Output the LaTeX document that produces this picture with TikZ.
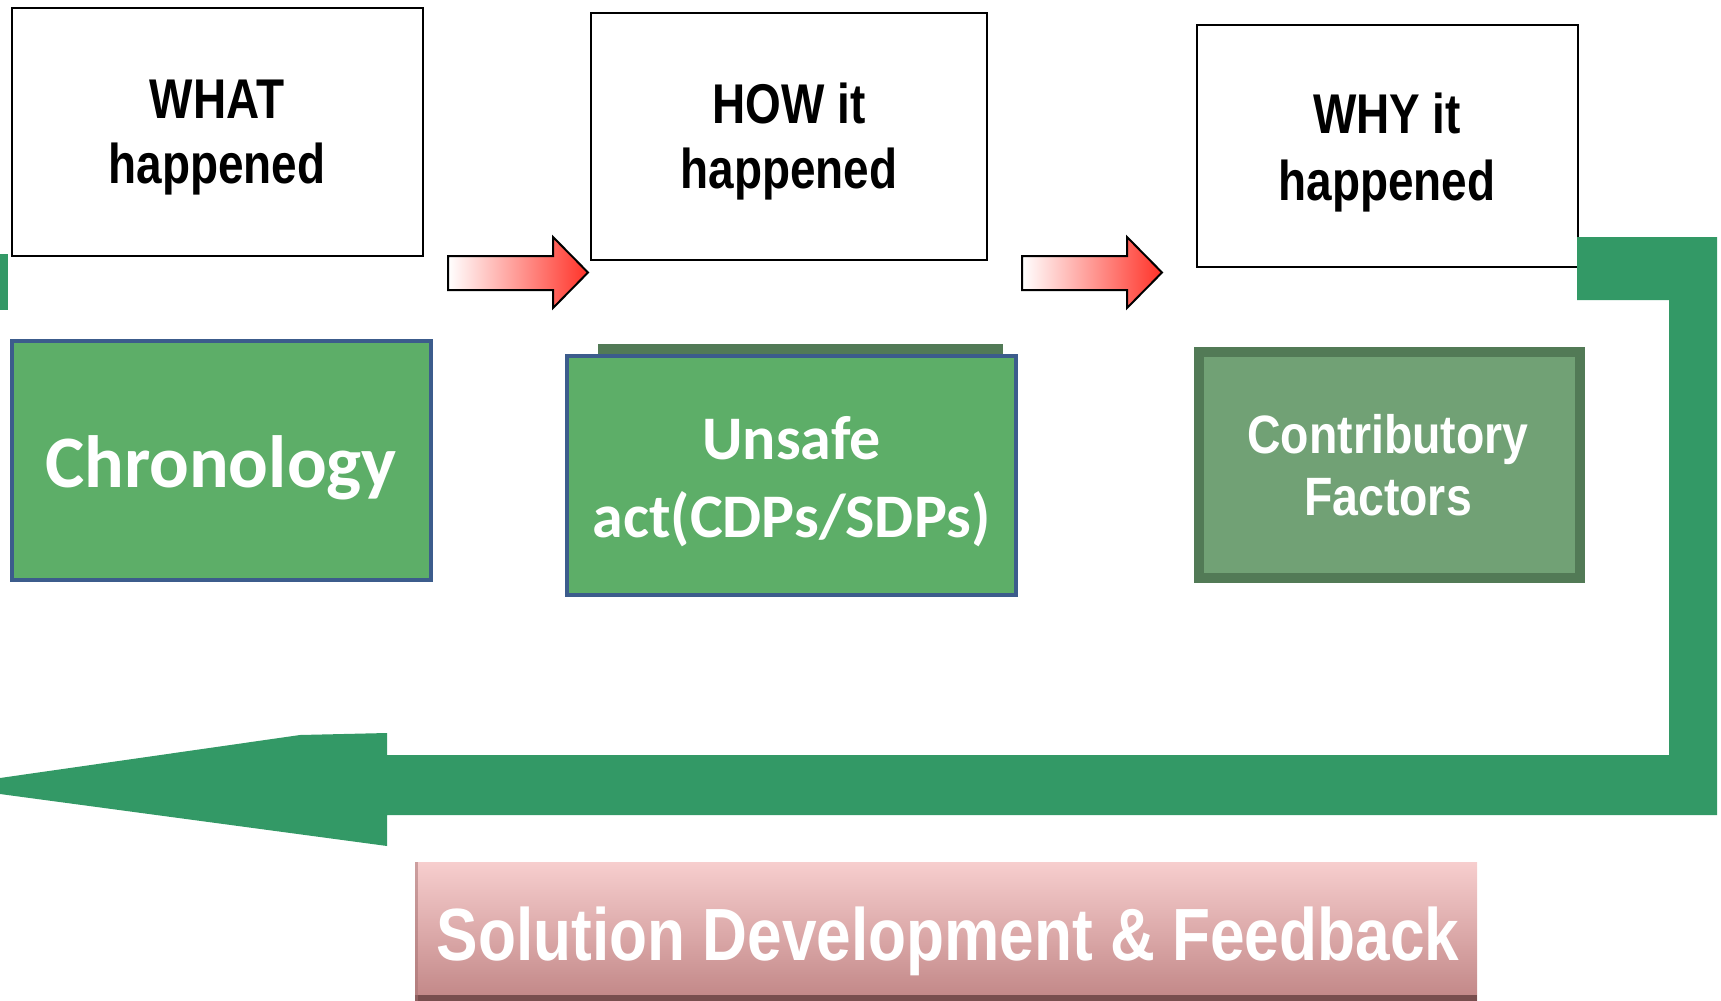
\documentclass[tikz,border=0pt]{standalone}
\usepackage{fontspec}
\setmainfont{Liberation Sans}
\newfontfamily\hdrfont[FakeStretch=0.82]{Liberation Sans}
\newfontfamily\cffont[FakeStretch=0.86]{Liberation Sans}
\newfontfamily\solfont[FakeStretch=0.84]{Liberation Sans}
\newfontfamily\calfont{Carlito}
\newcommand\mystack[1]{\begin{tabular}[t]{@{}c@{}}#1\end{tabular}}
\definecolor{loopgreen}{RGB}{51,153,102}
\definecolor{chgreen}{RGB}{93,174,104}
\definecolor{chblue}{RGB}{60,92,140}
\definecolor{dkgreen}{RGB}{82,122,86}
\definecolor{cfgreen}{RGB}{113,161,117}
\definecolor{arrred}{RGB}{255,50,40}
\definecolor{pinkA}{RGB}{247,206,206}
\definecolor{pinkB}{RGB}{233,176,176}
\definecolor{pinkC}{RGB}{193,134,134}
\definecolor{pinkD}{RGB}{120,78,78}
\begin{document}
\begin{tikzpicture}[x=1pt,y=-1pt,
  hbox/.style={draw=black, line width=2.5pt, fill=white, inner sep=0pt, rectangle},
  htext/.style={font=\hdrfont\bfseries\fontsize{56}{65}\selectfont, inner sep=0pt, anchor=base},
  greenbox/.style={draw=chblue, line width=4pt, fill=chgreen, inner sep=0pt, rectangle},
  caltext/.style={text=white, inner sep=0pt, anchor=base},
  cfbox/.style={draw=dkgreen, line width=10pt, fill=cfgreen, inner sep=0pt, rectangle},
  cftext/.style={text=white, font=\cffont\bfseries\fontsize{54}{62}\selectfont, inner sep=0pt, anchor=base},
  solbox/.style={top color=pinkA, middle color=pinkB, bottom color=pinkC, inner sep=0pt, rectangle, minimum width=1062pt, minimum height=139pt},
  soltext/.style={text=white, font=\solfont\bfseries\fontsize{74}{80}\selectfont, inner sep=0pt, anchor=base},
  redarrow/.style={left color=white, right color=arrred, draw=black, line width=2pt, line join=miter}
]
\useasboundingbox (0,0) rectangle (1721,1001);

% top boxes
\node[hbox, minimum width=411pt, minimum height=248pt] (what) at (217.5,132) {};
\node[hbox, minimum width=396pt, minimum height=247pt] (how) at (789,136.5) {};
\node[hbox, minimum width=381pt, minimum height=242pt] (why) at (1387.5,146) {};
\node[htext] (whatT) at (217,118) {\mystack{WHAT\\happened}};
\node[htext] (howT) at (789,123) {\mystack{HOW it\\happened}};
\node[htext, font=\hdrfont\bfseries\fontsize{56}{67}\selectfont] (whyT) at (1387,133) {\mystack{WHY it\\happened}};

% red block arrows
\coordinate (a1) at (448,256);
\shadedraw[redarrow] (a1) -- (553,256) -- (553,237) -- (588,272.5) -- (553,308) -- (553,290) -- (448,290) -- cycle;
\coordinate (a2) at (1022,256);
\shadedraw[redarrow] (a2) -- (1127,256) -- (1127,237) -- (1162,272.5) -- (1127,308) -- (1127,290) -- (1022,290) -- cycle;

% left green bar
\fill[loopgreen] (0,254) rectangle (8,310);

% middle boxes
\node[greenbox, minimum width=419pt, minimum height=239pt] (chron) at (221.5,460.5) {};
\node[caltext, font=\calfont\bfseries\fontsize{74}{80}\selectfont] (chronT) at (221,487) {Chronology};

\fill[dkgreen] (598,344) rectangle (1003,358);
\node[greenbox, minimum width=449pt, minimum height=239pt] (unsafe) at (791.5,475.5) {};
\node[caltext, font=\calfont\bfseries\fontsize{62}{78}\selectfont] (unsafeT) at (791.5,459) {\mystack{Unsafe\\act(CDPs/SDPs)}};

\node[cfbox, minimum width=381pt, minimum height=226pt] (cf) at (1389.5,465) {};
\node[cftext] (cfT) at (1388,453) {\mystack{Contributory\\Factors}};

% green feedback loop
\fill[loopgreen] (1577,237) -- (1717,237) -- (1717,815) -- (387,815) -- (387,846)
  -- (0,794) -- (0,778) -- (300,735) -- (387,733) -- (387,755) -- (1669,755)
  -- (1669,300) -- (1577,300) -- cycle;

% bottom box
\node[solbox] (sol) at (946,931.5) {};
\fill[pinkD] (415,995) rectangle (1477,1001);
\fill[pinkC!85!black, opacity=0.5] (415,862) rectangle (418,1001);
\node[soltext] (solT) at (948,960) {Solution Development \& Feedback};
\end{tikzpicture}
\end{document}
